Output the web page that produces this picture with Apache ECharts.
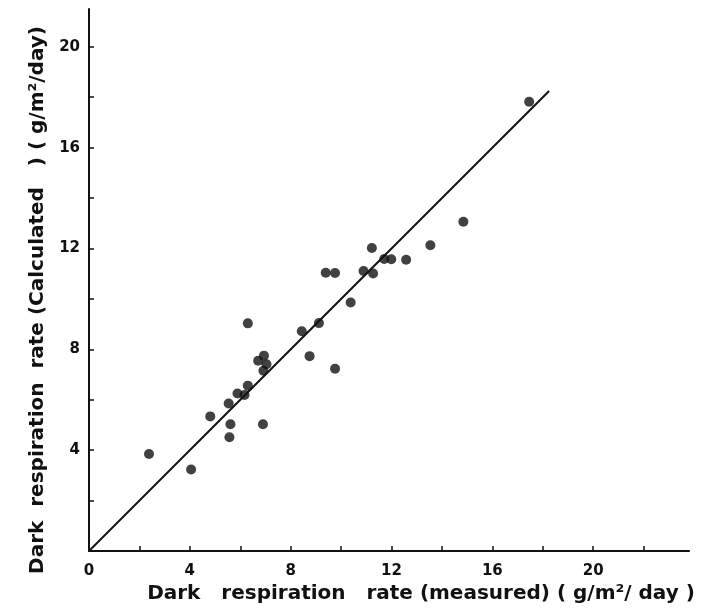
<!DOCTYPE html>
<html>
<head>
<meta charset="utf-8">
<script src="https://cdn.jsdelivr.net/npm/echarts@6/dist/echarts.min.js"></script>
<style>html,body{margin:0;padding:0;background:#fff}#c{width:707px;height:611px}</style>
</head>
<body>
<div id="c"></div>
<script>
// measured (x) vs calculated (y), g/m2/day
const measured = [2.38,4.05,4.81,5.54,5.61,5.57,5.89,6.17,6.30,6.30,6.71,6.94,7.04,6.92,6.90,8.44,8.75,9.12,9.39,9.76,9.76,10.38,10.89,11.22,11.27,11.71,11.99,12.58,13.54,14.85,17.46];
const calculated = [3.85,3.23,5.34,5.85,5.03,4.51,6.25,6.19,6.56,9.03,7.55,7.75,7.41,7.15,5.03,8.72,7.73,9.04,11.04,11.03,7.23,9.86,11.11,12.02,11.01,11.58,11.57,11.55,12.13,13.06,17.82];
const oneToOne = [[0,0],[18.25,18.25]];
const tickLabels = [0,4,8,12,16,20];

const points = measured.map((v,i)=>[v,calculated[i]]);
const chart = echarts.init(document.getElementById('c'));
const FF = 'DejaVu Sans, Liberation Sans, Arial, sans-serif';
const labelFont = {color:'#111',fontFamily:FF,fontWeight:'bold',fontSize:15};
chart.setOption({
  animation:false,
  grid:{left:89,top:9,width:600,height:542},
  xAxis:{type:'value',min:0,max:23.8,interval:2,
    name:'Dark   respiration   rate (measured) ( g/m²/ day )',
    nameLocation:'middle',nameGap:29,
    nameTextStyle:{color:'#111',fontFamily:FF,fontWeight:'bold',fontSize:20,padding:[0,0,0,64]},
    axisLine:{lineStyle:{color:'#111',width:2}},
    axisTick:{inside:true,length:5,lineStyle:{color:'#111',width:1.5}},
    splitLine:{show:false},
    axisLabel:Object.assign({margin:13,showMaxLabel:false,formatter:v=>tickLabels.includes(v)?String(v):''},labelFont)
  },
  yAxis:{type:'value',min:0,max:21.5,interval:2,
    name:'Dark  respiration  rate (Calculated   ) ( g/m²/day)',
    nameLocation:'middle',nameGap:34,
    nameTextStyle:{color:'#111',fontFamily:FF,fontWeight:'bold',fontSize:20,padding:[0,0,0,-40]},
    axisLine:{lineStyle:{color:'#111',width:2}},
    axisTick:{inside:true,length:5,lineStyle:{color:'#111',width:1.5}},
    splitLine:{show:false},
    axisLabel:Object.assign({margin:9,showMaxLabel:false,formatter:v=>(v!==0&&tickLabels.includes(v))?String(v):''},labelFont)
  },
  series:[
    {type:'line',data:oneToOne,symbol:'none',lineStyle:{color:'#111',width:2},z:2},
    {type:'scatter',data:points,symbolSize:10,itemStyle:{color:'#111'},z:3}
  ]
});
</script>
</body>
</html>
